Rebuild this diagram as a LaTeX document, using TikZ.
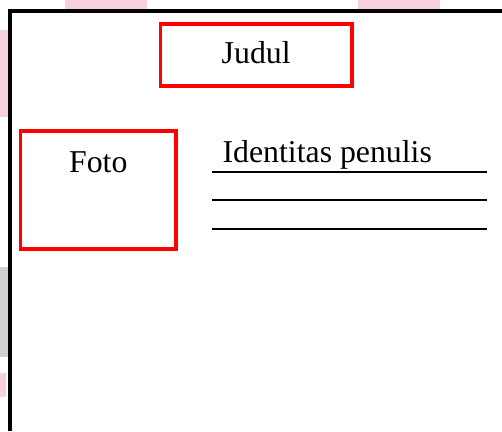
\documentclass[tikz,border=0pt]{standalone}
\usepackage{fontspec}
\setmainfont{Liberation Serif}
\definecolor{edgepink}{RGB}{246,208,218}
\definecolor{edgegray}{RGB}{208,208,208}
\begin{document}
\begin{tikzpicture}[x=1pt,y=-1pt,
  redbox/.style={draw=red, line width=3.6pt, inner sep=0pt, line join=miter},
  txt/.style={inner sep=0pt, font=\fontsize{31.8}{36}\selectfont, text=black},
  rule/.style={line width=2pt, black},
  patch/.style={draw=none}]
\useasboundingbox (0,0) rectangle (502,431);
\fill[white] (0,0) rectangle (502,431);
% faint coloured patches along the page edge
\fill[patch, fill=edgepink] (65,0) rectangle (147,9);
\fill[patch, fill=edgepink] (358,0) rectangle (440,9);
\fill[patch, fill=edgepink] (0,30) rectangle (8,117);
\fill[patch, fill=edgegray] (0,267) rectangle (8,357);
\fill[patch, fill=edgepink] (0,373) rectangle (6,397);
% page frame (top and left edges)
\coordinate (ftr) at (502,10.8);
\coordinate (fc) at (10.3,10.8);
\coordinate (fbl) at (10.3,431);
\draw[line width=3.8pt, line join=miter, black] (ftr) -- (fc) -- (fbl);
% title box
\node[redbox, minimum width=191.7pt, minimum height=62pt] (judul) at (256.2,54.7) {};
\node[txt, anchor=base] (judultxt) at (256.2,63) {Judul};
% photo box
\node[redbox, minimum width=155.4pt, minimum height=117.7pt] (foto) at (98,189.9) {};
\node[txt, anchor=base] (fototxt) at (98.3,172.3) {Foto};
% author identity with writing lines
\node[txt, anchor=base west] (ident) at (222.4,162.3) {Identitas penulis};
\coordinate (l1a) at (211.7,172.3); \coordinate (l1b) at (486.7,172.3);
\coordinate (l2a) at (211.7,200);   \coordinate (l2b) at (486.7,200);
\coordinate (l3a) at (211.7,229.3); \coordinate (l3b) at (486.7,229.3);
\draw[rule] (l1a) -- (l1b);
\draw[rule] (l2a) -- (l2b);
\draw[rule] (l3a) -- (l3b);
\end{tikzpicture}
\end{document}
